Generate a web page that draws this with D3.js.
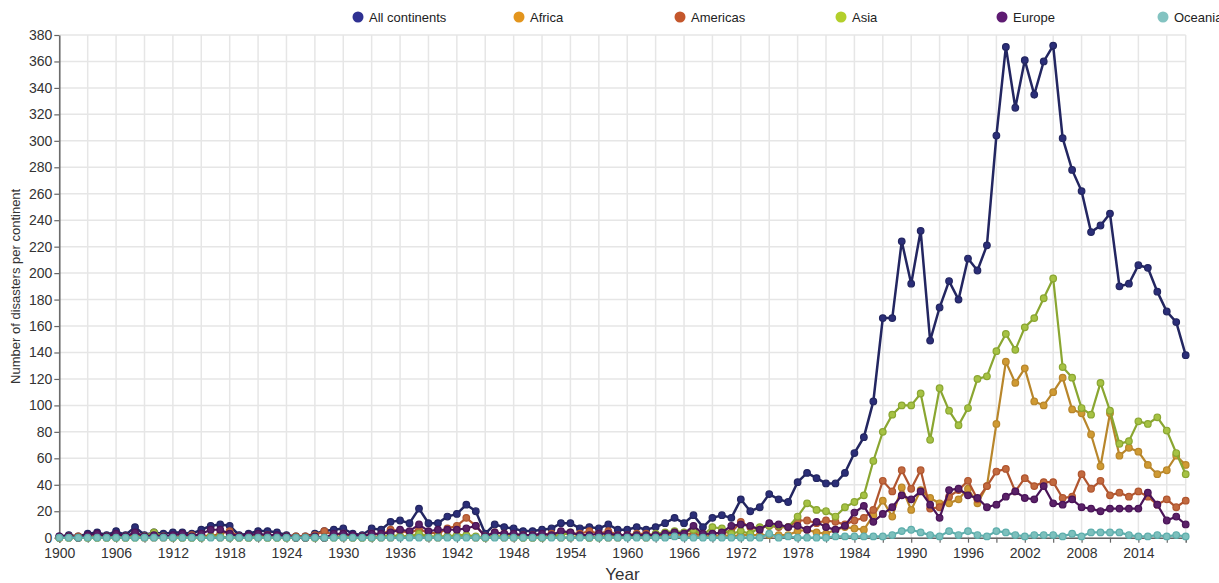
<!DOCTYPE html>
<html>
<head>
<meta charset="utf-8">
<script src="https://cdn.jsdelivr.net/npm/d3@7"></script>
<style>
  html, body { margin: 0; padding: 0; background: #fff; }
  svg { display: block; font-family: "Liberation Sans", Arial, sans-serif; }
</style>
</head>
<body>
<svg id="chart" width="1219" height="583"></svg>
<script>
// Reported disasters per year, 1900–2019
const firstYear = 1900;
const lastYear = 2019;

const allContinents = [
  1, 2, 1, 3, 4, 2, 5, 2, 8, 2,
  4, 3, 4, 4, 3, 6, 9, 10, 9, 2,
  3, 5, 5, 4, 2, 1, 1, 3, 5, 6,
  7, 3, 2, 7, 6, 12, 13, 11, 22, 11,
  11, 16, 18, 25, 20, 3, 10, 8, 7, 5,
  5, 6, 7, 11, 11, 7, 8, 7, 10, 6,
  6, 8, 6, 8, 11, 15, 11, 17, 8, 15,
  17, 15, 29, 20, 23, 33, 29, 27, 42, 49,
  45, 41, 41, 49, 64, 76, 103, 166, 166, 224,
  192, 232, 149, 174, 194, 180, 211, 202, 221, 304,
  371, 325, 361, 335, 360, 372, 302, 278, 262, 231,
  236, 245, 190, 192, 206, 204, 186, 171, 163, 138
];

const africa = [
  0, 0, 0, 0, 0, 0, 0, 0, 1, 0,
  0, 0, 0, 0, 0, 0, 1, 0, 0, 0,
  0, 0, 0, 0, 0, 0, 0, 0, 0, 1,
  0, 0, 0, 0, 0, 0, 1, 1, 1, 0,
  0, 1, 1, 1, 0, 0, 1, 0, 0, 0,
  0, 0, 1, 0, 0, 1, 0, 1, 0, 0,
  1, 1, 0, 1, 1, 2, 1, 1, 1, 1,
  2, 1, 2, 2, 2, 2, 2, 2, 5, 6,
  4, 3, 6, 8, 7, 6, 17, 28, 16, 38,
  21, 36, 30, 26, 26, 29, 37, 26, 39, 86,
  133, 117, 128, 103, 100, 110, 121, 97, 94, 78,
  54, 94, 62, 68, 65, 55, 48, 51, 62, 55
];

const americas = [
  0, 1, 1, 1, 1, 1, 2, 1, 3, 1,
  1, 1, 1, 1, 2, 2, 1, 3, 5, 1,
  1, 1, 2, 1, 1, 1, 1, 2, 5, 2,
  3, 1, 1, 3, 2, 6, 5, 4, 6, 4,
  3, 7, 9, 15, 9, 1, 4, 3, 2, 2,
  2, 2, 3, 3, 3, 3, 5, 3, 5, 2,
  2, 3, 3, 2, 3, 3, 3, 3, 2, 3,
  4, 4, 12, 8, 7, 9, 8, 8, 13, 13,
  11, 13, 12, 10, 13, 15, 21, 43, 35, 51,
  37, 51, 22, 23, 31, 36, 43, 29, 39, 50,
  52, 35, 45, 39, 42, 42, 30, 31, 48, 37,
  43, 32, 34, 31, 35, 31, 25, 29, 23, 28
];

const asia = [
  0, 0, 0, 0, 0, 0, 0, 0, 0, 1,
  4, 1, 0, 0, 0, 0, 1, 1, 0, 0,
  0, 1, 0, 0, 0, 0, 0, 0, 0, 0,
  1, 0, 0, 0, 1, 2, 1, 1, 3, 1,
  1, 1, 2, 2, 1, 0, 1, 1, 1, 0,
  0, 0, 1, 2, 4, 1, 0, 0, 2, 1,
  1, 2, 1, 3, 4, 5, 4, 6, 2, 8,
  7, 3, 5, 3, 8, 9, 9, 8, 16, 26,
  21, 20, 16, 23, 27, 32, 58, 80, 93, 100,
  100, 109, 74, 113, 96, 85, 98, 120, 122, 141,
  154, 142, 159, 166, 181, 196, 129, 121, 98, 93,
  117, 96, 71, 73, 88, 86, 91, 81, 64, 48
];

const europe = [
  1, 1, 0, 2, 3, 1, 3, 1, 4, 1,
  2, 1, 2, 3, 1, 3, 6, 6, 3, 1,
  2, 3, 2, 2, 1, 0, 0, 1, 0, 3,
  3, 2, 1, 3, 3, 4, 6, 5, 10, 5,
  6, 6, 6, 7, 9, 1, 4, 3, 3, 2,
  2, 3, 2, 5, 4, 2, 2, 3, 3, 2,
  2, 2, 2, 2, 3, 4, 3, 9, 3, 3,
  4, 9, 10, 9, 6, 11, 10, 8, 9, 6,
  12, 8, 6, 9, 19, 24, 12, 18, 23, 32,
  29, 35, 25, 15, 36, 37, 32, 30, 23, 25,
  31, 35, 30, 29, 39, 26, 25, 29, 23, 22,
  20, 22, 22, 22, 22, 34, 25, 13, 16, 10
];

const oceania = [
  0, 0, 0, 0, 0, 0, 0, 0, 0, 0,
  0, 0, 0, 0, 0, 0, 0, 0, 0, 0,
  0, 0, 0, 0, 0, 0, 0, 0, 0, 0,
  0, 0, 0, 0, 0, 0, 0, 0, 0, 0,
  0, 0, 0, 0, 0, 0, 0, 0, 0, 0,
  0, 0, 0, 0, 0, 0, 0, 0, 0, 0,
  0, 0, 0, 0, 0, 1, 0, 0, 0, 0,
  0, 0, 0, 0, 0, 3, 0, 1, 0, 0,
  0, 0, 1, 1, 1, 1, 1, 1, 2, 5,
  6, 4, 2, 1, 5, 2, 5, 2, 1, 5,
  4, 2, 1, 2, 2, 2, 1, 3, 1, 4,
  4, 4, 4, 2, 1, 1, 2, 1, 2, 1
];

const seriesNames = ["All continents", "Africa", "Americas", "Asia", "Europe", "Oceania"];
const seriesValues = [allContinents, africa, americas, asia, europe, oceania];
const yTicks = d3.range(0, 381, 20);

// Colours: legend swatch, line stroke, marker fill
const legendColors = ["#2f3192", "#e3951d", "#c4572c", "#b3cf2b", "#5e1b72", "#83c3c1"];
const lineColors   = ["#232661", "#b8862b", "#b0552f", "#8aa631", "#4a1458", "#5eaeac"];
const dotColors    = ["#2b2e78", "#cf9a33", "#c26a3f", "#a6c244", "#5a2168", "#7dc0bd"];

const years = d3.range(firstYear, lastYear + 1);

const svg = d3.select("#chart");
const margin = { left: 59.3, right: 1219 - 1185.7, top: 35, bottom: 583 - 537.7 };
const W = 1219, H = 583;

const x = d3.scaleLinear().domain([firstYear, lastYear]).range([margin.left, W - margin.right]);
const y = d3.scaleLinear().domain([0, 380]).range([H - margin.bottom, margin.top]);

// Grid
const grid = svg.append("g").attr("class", "grid");
const gridYears = d3.range(firstYear, lastYear + 1, 3).concat([lastYear]);
grid.selectAll("line.v").data(gridYears).join("line")
  .attr("class", "v")
  .attr("x1", d => x(d)).attr("x2", d => x(d))
  .attr("y1", y(0)).attr("y2", y(380))
  .attr("stroke", "#e6e6e6").attr("stroke-width", 1.5);
grid.selectAll("line.h").data(yTicks).join("line")
  .attr("class", "h")
  .attr("x1", x(firstYear)).attr("x2", x(lastYear))
  .attr("y1", d => y(d)).attr("y2", d => y(d))
  .attr("stroke", "#e6e6e6").attr("stroke-width", 1.5);

// Axes
const xAxis = d3.axisBottom(x)
  .tickValues(d3.range(firstYear, lastYear + 1, 3))
  .tickFormat(d => ((d - firstYear) % 6 === 0 ? String(d) : ""))
  .tickSize(5).tickSizeOuter(5);
const gx = svg.append("g").attr("transform", `translate(0,${y(0)})`).call(xAxis);

const yAxis = d3.axisLeft(y).tickValues(yTicks).tickSize(5).tickSizeOuter(0);
const gy = svg.append("g").attr("transform", `translate(${x(firstYear)},0)`).call(yAxis);

[gx, gy].forEach(g => {
  g.select(".domain").attr("stroke", "#666").attr("stroke-width", 1.5);
  g.selectAll(".tick line").attr("stroke", "#666").attr("stroke-width", 1.2);
  g.selectAll(".tick text")
    .attr("fill", "#333")
    .style("font-size", "14px")
    .style("font-family", "'Liberation Sans', Arial, sans-serif");
});
gx.selectAll(".tick text").attr("dy", "0.9em");
gy.selectAll(".tick text").attr("x", -7);

// Axis titles
svg.append("text")
  .attr("x", (x(firstYear) + x(lastYear)) / 2)
  .attr("y", 580)
  .attr("text-anchor", "middle")
  .attr("fill", "#333")
  .style("font-size", "17px")
  .text("Year");

svg.append("text")
  .attr("transform", `translate(20,${(y(0) + y(380)) / 2}) rotate(-90)`)
  .attr("text-anchor", "middle")
  .attr("fill", "#333")
  .style("font-size", "13px")
  .text("Number of disasters per continent");

// Series
const line = d3.line().x((d, i) => x(years[i])).y(d => y(d));
const plot = svg.append("g");
seriesValues.forEach((vals, k) => {
  const g = plot.append("g");
  g.append("path")
    .datum(vals)
    .attr("d", line)
    .attr("fill", "none")
    .attr("stroke", lineColors[k])
    .attr("stroke-width", k === 0 ? 2.5 : 2.2);
  g.selectAll("circle").data(vals).join("circle")
    .attr("cx", (d, i) => x(years[i]))
    .attr("cy", d => y(d))
    .attr("r", 3.3)
    .attr("fill", dotColors[k])
    .attr("stroke", lineColors[k])
    .attr("stroke-width", 1.2);
});

// Legend
const legend = svg.append("g");
seriesNames.forEach((name, k) => {
  const lx = 358 + k * 161;
  legend.append("circle").attr("cx", lx).attr("cy", 17).attr("r", 5.5).attr("fill", legendColors[k]);
  legend.append("text").attr("x", lx + 11).attr("y", 22)
    .attr("fill", "#222")
    .style("font-size", "13px")
    .text(name);
});
</script>
</body>
</html>
